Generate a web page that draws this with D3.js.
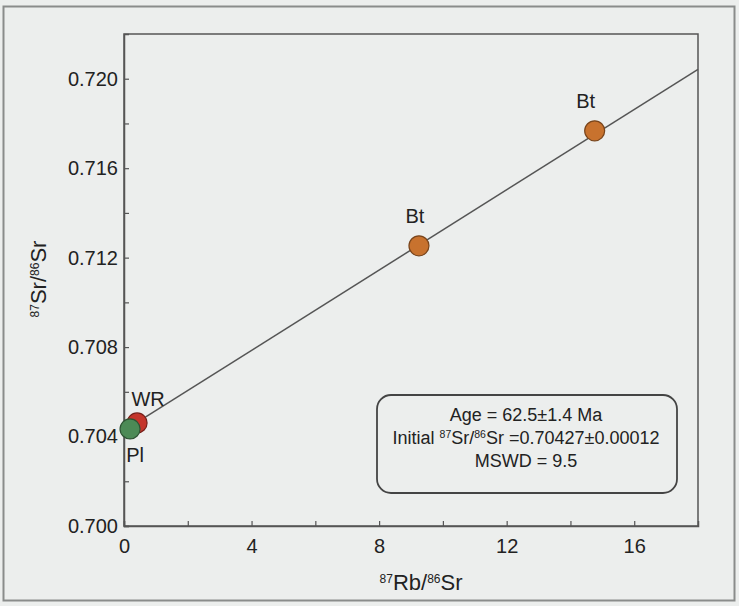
<!DOCTYPE html>
<html>
<head>
<meta charset="utf-8">
<script src="https://cdn.jsdelivr.net/npm/d3@7"></script>
<style>
  body { margin: 0; background: #eceeed; }
  svg { display: block; }
  text { font-family: "Liberation Sans", Arial, sans-serif; fill: #222; }
</style>
</head>
<body>
<svg id="chart" width="739" height="606"></svg>
<script>
// samples
var labels = ["WR", "Pl", "Bt", "Bt"];
var rbSr = [0.41, 0.19, 9.25, 14.76];
var srSr = [0.70461, 0.70434, 0.71253, 0.71767];
var colors = ["#c4352b", "#4c8a56", "#c8722e", "#c8722e"];
// isochron end points
var lineX = [0.62, 18];
var lineY = [0.70482, 0.72042];
var xTicks = [0, 2, 4, 6, 8, 10, 12, 14, 16];
var yTicks = [0.700, 0.702, 0.704, 0.706, 0.708, 0.710, 0.712, 0.714, 0.716, 0.718, 0.720];
var resultLines = ["Age = 62.5\u00b11.4 Ma", "Initial |87|Sr/|86|Sr =0.70427\u00b10.00012", "MSWD = 9.5"];

var svg = d3.select("#chart");
var plotL = 124, plotR = 698, plotT = 34, plotB = 526;

var x = d3.scaleLinear().domain([0, 18]).range([plotL, plotR]);
var y = d3.scaleLinear().domain([0.700, 0.722]).range([plotB, plotT]);

// outer frame of the figure
svg.append("rect").attr("x", 3.5).attr("y", 6.5).attr("width", 731).attr("height", 594)
    .attr("fill", "none").attr("stroke", "#8a8c8b").attr("stroke-width", 2);

// plot box
svg.append("rect").attr("x", plotL).attr("y", plotT).attr("width", plotR - plotL).attr("height", plotB - plotT)
    .attr("fill", "none").attr("stroke", "#555").attr("stroke-width", 1.5);

var yAxis = d3.axisLeft(y).tickValues(yTicks).tickSize(-5).tickPadding(6)
    .tickFormat(function(d, i){ return i % 2 == 0 ? d3.format(".3f")(d) : ""; });
var gy = svg.append("g").attr("transform", "translate(" + plotL + ",0)").call(yAxis);

var xAxis = d3.axisBottom(x).tickValues(xTicks).tickSize(-5).tickPadding(13)
    .tickFormat(function(d, i){ return i % 2 == 0 ? d : ""; });
var gx = svg.append("g").attr("transform", "translate(0," + plotB + ")").call(xAxis);

[gx, gy].forEach(function(g){
    g.select(".domain").attr("stroke", "#555").attr("stroke-width", 1.5);
    g.selectAll(".tick line").attr("stroke", "#555").attr("stroke-width", 1.2);
    g.selectAll(".tick text").attr("font-size", 20).attr("fill", "#222")
        .attr("font-family", "Liberation Sans, Arial, sans-serif");
});

// superscript helper: "|87|Sr" -> 87 raised
function richText(sel, str, big, small){
    str.split("|").forEach(function(part, i){
        if(part == "") return;
        var sup = i % 2 == 1;
        sel.append("tspan").text(part)
            .attr("font-size", sup ? small : big)
            .attr("baseline-shift", sup ? "super" : null);
    });
}

// axis titles
var xt = svg.append("text").attr("x", 421).attr("y", 590).attr("text-anchor", "middle");
richText(xt, "|87|Rb/|86|Sr", 22, 12);

var yt = svg.append("text").attr("transform", "translate(46,279) rotate(-90)").attr("text-anchor", "middle");
richText(yt, "|87|Sr/|86|Sr", 22, 12);

// isochron
svg.append("line")
    .attr("x1", x(lineX[0])).attr("y1", y(lineY[0]))
    .attr("x2", x(lineX[1])).attr("y2", y(lineY[1]))
    .attr("stroke", "#555").attr("stroke-width", 1.5);

// points
var pts = labels.map(function(l, i){ return {label: l, x: rbSr[i], y: srSr[i], color: colors[i]}; });
svg.selectAll("circle.pt").data(pts).enter().append("circle")
    .attr("class", "pt")
    .attr("cx", function(d){ return x(d.x); })
    .attr("cy", function(d){ return y(d.y); })
    .attr("r", 10)
    .attr("fill", function(d){ return d.color; })
    .attr("stroke", function(d){ return d3.color(d.color).darker(1.4); })
    .attr("stroke-width", 1.2);

// point labels
var labelOff = [[11, -24], [5, 26], [-4, -30], [-9, -30]];
svg.selectAll("text.lbl").data(pts).enter().append("text")
    .attr("class", "lbl")
    .attr("x", function(d, i){ return x(d.x) + labelOff[i][0]; })
    .attr("y", function(d, i){ return y(d.y) + labelOff[i][1]; })
    .attr("dy", "0.35em")
    .attr("text-anchor", "middle")
    .attr("font-size", 20)
    .text(function(d){ return d.label; });

// result box
svg.append("rect").attr("x", 377).attr("y", 395).attr("width", 300).attr("height", 98)
    .attr("rx", 14).attr("ry", 14)
    .attr("fill", "none").attr("stroke", "#444").attr("stroke-width", 1.8);

resultLines.forEach(function(s, i){
    var t = svg.append("text").attr("x", 526).attr("y", 415 + i * 23).attr("dy", "0.35em")
        .attr("text-anchor", "middle");
    richText(t, s, 18, 10.5);
});
</script>
</body>
</html>
